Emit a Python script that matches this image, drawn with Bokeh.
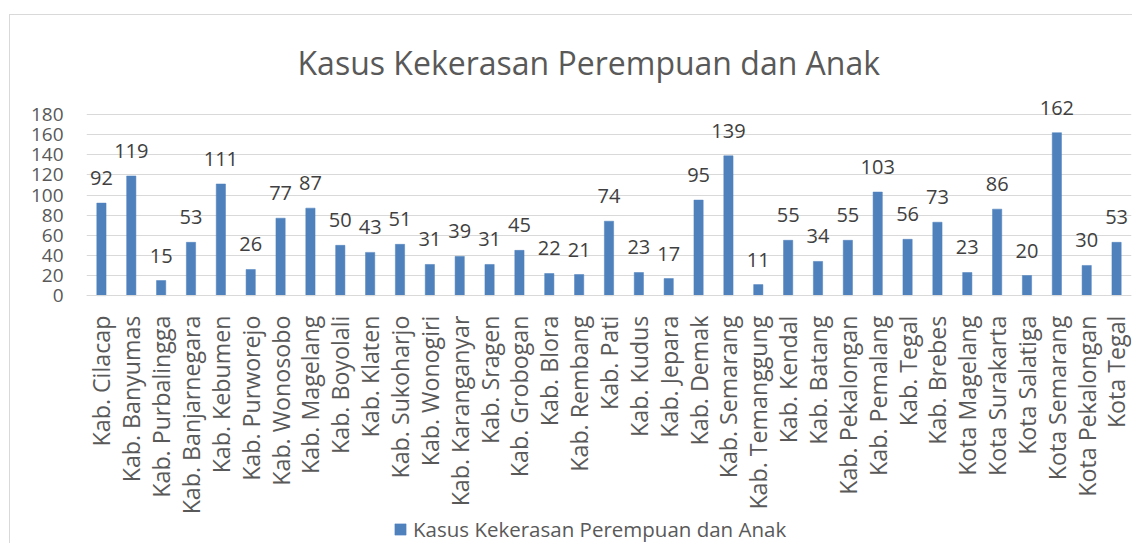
import math
from bokeh.plotting import figure
from bokeh.models import (ColumnDataSource, FixedTicker, Legend, LegendItem,
                          LabelSet, Range1d, InlineStyleSheet)
from bokeh.core.properties import value
from bokeh.embed import file_html
from bokeh.resources import INLINE

categories = [
    "Kab. Cilacap", "Kab. Banyumas", "Kab. Purbalingga", "Kab. Banjarnegara",
    "Kab. Kebumen", "Kab. Purworejo", "Kab. Wonosobo", "Kab. Magelang",
    "Kab. Boyolali", "Kab. Klaten", "Kab. Sukoharjo", "Kab. Wonogiri",
    "Kab. Karanganyar", "Kab. Sragen", "Kab. Grobogan", "Kab. Blora",
    "Kab. Rembang", "Kab. Pati", "Kab. Kudus", "Kab. Jepara", "Kab. Demak",
    "Kab. Semarang", "Kab. Temanggung", "Kab. Kendal", "Kab. Batang",
    "Kab. Pekalongan", "Kab. Pemalang", "Kab. Tegal", "Kab. Brebes",
    "Kota Magelang", "Kota Surakarta", "Kota Salatiga", "Kota Semarang",
    "Kota Pekalongan", "Kota Tegal",
]
values = [92, 119, 15, 53, 111, 26, 77, 87, 50, 43, 51, 31, 39, 31, 45, 22,
          21, 74, 23, 17, 95, 139, 11, 55, 34, 55, 103, 56, 73, 23, 86, 20,
          162, 30, 53]
y_ticks = [0, 20, 40, 60, 80, 100, 120, 140, 160, 180]
series_name = "Kasus Kekerasan Perempuan dan Anak"
title_text = "Kasus Kekerasan Perempuan dan Anak"

FONT = "Open Sans"
GREY = "#595959"

src = ColumnDataSource(dict(cat=categories, val=values,
                            lab=[str(v) for v in values]))

# frame: 94..543 px tall (449 px); 0 sits at 295 px, 180 at 114 px
p = figure(x_range=categories, y_range=Range1d(-246.5, 200),
           width=1132, height=543, output_backend="svg",
           toolbar_location=None,
           min_border_left=86, min_border_right=1,
           min_border_top=94, min_border_bottom=0,
           title=title_text)

p.title.text_font = FONT
p.title.text_font_size = "32px"
p.title.text_font_style = "normal"
p.title.text_color = GREY
p.title.align = "left"
p.title.offset = 211
p.title.standoff = 21

p.outline_line_color = None
p.background_fill_alpha = 0
p.border_fill_alpha = 0

p.stylesheets = [InlineStyleSheet(css=(
    ":host::before{content:'';position:absolute;left:9px;top:14px;"
    "right:0;bottom:0;border-top:1px solid #d9d9d9;"
    "border-left:1px solid #d9d9d9;pointer-events:none;}"))]

bars = p.vbar(x="cat", top="val", width=0.31, source=src,
              fill_color="#4F81BD", line_color="#4F81BD", line_width=0.5)

labels = LabelSet(x="cat", y="val", text="lab", source=src,
                  text_align="center", text_baseline="alphabetic",
                  y_offset=18, text_font=value(FONT),
                  text_font_size=value("20px"),
                  text_color=value("#404040"))
p.add_layout(labels)

# y axis
p.yaxis.ticker = FixedTicker(ticks=y_ticks)
p.yaxis.axis_line_color = None
p.yaxis.major_tick_line_color = None
p.yaxis.minor_tick_line_color = None
p.yaxis.major_tick_out = 0
p.yaxis.major_tick_in = 0
p.yaxis.major_label_standoff = 23
p.yaxis.major_label_text_font = FONT
p.yaxis.major_label_text_font_size = "19px"
p.yaxis.major_label_text_color = GREY

# x axis, pinned at y = 0
p.xaxis.fixed_location = 0
p.xaxis.axis_line_color = "#d9d9d9"
p.xaxis.axis_line_width = 1
p.xaxis.major_tick_line_color = None
p.xaxis.minor_tick_line_color = None
p.xaxis.major_tick_out = 0
p.xaxis.major_tick_in = 0
p.xaxis.major_label_orientation = math.pi / 2
p.xaxis.major_label_standoff = 20
p.xaxis.major_label_text_font = FONT
p.xaxis.major_label_text_font_size = "23.2px"
p.xaxis.major_label_text_color = GREY

p.xgrid.grid_line_color = None
p.ygrid.grid_line_color = "#d9d9d9"
p.ygrid.grid_line_width = 1

legend = Legend(items=[LegendItem(label=series_name, renderers=[bars])],
                orientation="horizontal", location=(307, 0),
                glyph_width=14, glyph_height=14, label_standoff=6,
                label_text_font=FONT, label_text_font_size="20.5px",
                label_text_color=GREY, border_line_color=None,
                background_fill_alpha=0, margin=0, padding=0)
p.add_layout(legend)

open("out.html", "w").write(file_html(p, INLINE))
